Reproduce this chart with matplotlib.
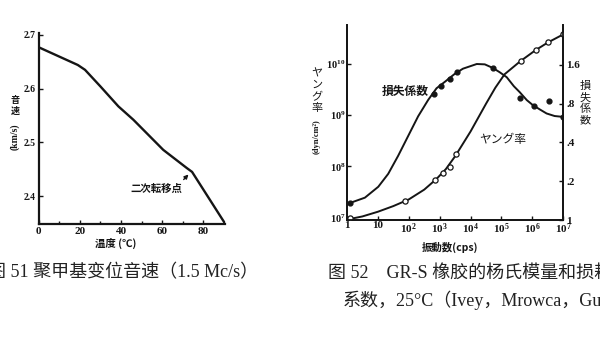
import matplotlib
matplotlib.use("Agg")
import matplotlib.pyplot as plt

# fig 51: sound velocity vs temperature
temp_c = [0, 19, 22.5, 30, 38.7, 46, 60.5, 72, 74.5, 90.5]
speed_kms = [2.677, 2.644, 2.635, 2.604, 2.567, 2.542, 2.486, 2.452, 2.445, 2.349]
transition_t = 74.5
transition_v = 2.445

# fig 52: GR-S rubber, Young's modulus and loss factor vs frequency
young_freq = [1, 3.16, 10, 31.6, 100, 316, 794, 1585, 3162, 10000, 31623, 63096,
              125893, 398107, 1.26e6, 3.16e6, 1e7]
young_mod = [9.3e6, 1.07e7, 1.32e7, 1.70e7, 2.29e7, 3.55e7, 5.75e7, 8.9e7, 1.58e8,
             4.8e8, 1.66e9, 3.39e9, 6.2e9, 1.1e10, 1.82e10, 2.57e10, 3.7e10]
young_pts_freq = [1.26, 74, 692, 1288, 2138, 3467, 436516, 1.35e6, 3.16e6, 9.8e6]
young_pts_mod = [1.0e7, 2.09e7, 5.37e7, 7.41e7, 9.77e7, 1.74e8, 1.10e10, 1.82e10, 2.63e10, 3.8e10]

loss_freq = [1, 3.8, 10.3, 21.6, 45.4, 95.5, 201, 424, 790, 1479, 3090, 5660,
             15849, 28840, 52481, 87096, 147911, 251189, 389045, 660693, 1.02e6,
             1.74e6, 2.88e6, 5.25e6, 1e7]
loss_fac = [0.133, 0.149, 0.181, 0.228, 0.315, 0.448, 0.637, 0.853, 1.05, 1.18, 1.36,
            1.49, 1.62, 1.61, 1.51, 1.40, 1.28, 1.09, 0.98, 0.85, 0.78, 0.72, 0.67,
            0.64, 0.63]
loss_pts_freq = [1.26, 646, 1072, 2138, 3631, 53703, 407380, 1.1e6, 3.39e6, 9.8e6]
loss_pts_fac = [0.135, 0.95, 1.10, 1.23, 1.41, 1.51, 0.88, 0.77, 0.84, 0.63]

freq_ticks = [1, 10, 1e2, 1e3, 1e4, 1e5, 1e6, 1e7]
freq_labels = ["1", "10", "$10^2$", "$10^3$", "$10^4$", "$10^5$", "$10^6$", "$10^7$"]
mod_ticks = [1e7, 1e8, 1e9, 1e10]
mod_labels = ["$10^7$", "$10^8$", "$10^9$", "$10^{10}$"]
loss_ticks = [0.1, 0.2, 0.4, 0.8, 1.6]
loss_labels = ["1", ".2", ".4", ".8", "1.6"]

plt.rcParams["mathtext.fontset"] = "custom"
plt.rcParams["mathtext.bf"] = "Liberation Serif:bold"
plt.rcParams["mathtext.rm"] = "Liberation Serif:bold"
plt.rcParams["mathtext.default"] = "bf"

ink = "#151515"
tickfont = dict(family="Liberation Serif", weight="bold")
jp = ["Noto Sans CJK JP", "DejaVu Sans"]
cap = ["Liberation Serif", "Noto Sans CJK SC"]

fig = plt.figure(figsize=(6, 3.38), dpi=100)

# ---- left chart
ax1 = fig.add_axes([0.0645, 0.3373, 0.3105, 0.5642])
ax1.plot(temp_c, speed_kms, color=ink, lw=1.7)
ax1.set_xlim(0, 90.5)
ax1.set_ylim(2.348, 2.703)
for s in ["top", "right"]:
    ax1.spines[s].set_visible(False)
for s in ["left", "bottom"]:
    ax1.spines[s].set_linewidth(1.6)
    ax1.spines[s].set_color(ink)
ax1.set_xticks([0, 20, 40, 60, 80])
ax1.set_xticks([10, 30, 50, 70, 90], minor=True)
ax1.set_yticks([2.4, 2.5, 2.6, 2.7])
ax1.set_xticklabels(["0", "20", "40", "60", "80"], fontsize=8, color=ink, **tickfont)
ax1.set_yticklabels(["2.4", "2.5", "2.6", "2.7"], fontsize=7, color=ink, **tickfont)
ax1.tick_params(direction="in", length=3, width=1, pad=2, colors=ink)
ax1.tick_params(which="minor", direction="in", length=2, width=1, colors=ink)
ax1.annotate("", xy=(transition_t - 0.8, transition_v - 0.001), xytext=(69.5, 2.427),
             arrowprops=dict(arrowstyle="-|>", color=ink, lw=1, mutation_scale=6))
ax1.text(57, 2.414, "二次転移点", family=jp, fontsize=7.5, weight="bold",
         color=ink, ha="center", va="center")

fig.text(15 / 600, 1 - 106 / 338, "音\n速", family=jp, fontsize=6.5, weight="bold",
         color=ink, ha="center", va="center", linespacing=1.3)
fig.text(15 / 600, 1 - 137 / 338, "(km/s)", family="Liberation Serif", fontsize=7,
         weight="bold", color=ink, rotation=90, ha="center", va="center")
fig.text(116 / 600, 1 - 243 / 338, "温度 (℃)", family=jp, fontsize=7.5, weight="bold",
         color=ink, ha="center", va="center")

# ---- right chart
ax2 = fig.add_axes([0.5783, 0.3491, 0.3605, 0.5769])
ax2.set_xscale("log")
ax2.set_yscale("log")
ax2.plot(young_freq, young_mod, color=ink, lw=1.4, zorder=3)
ax2.scatter(young_pts_freq, young_pts_mod, s=14, facecolor="white", edgecolor=ink,
            lw=0.9, zorder=4)
ax2.set_xlim(1, 1e7)
ax2.set_ylim(10 ** 6.96, 10 ** 10.75)
ax2.set_xticks(freq_ticks)
ax2.set_xticklabels(freq_labels, fontsize=8, color=ink, **tickfont)
ax2.set_yticks(mod_ticks)
ax2.set_yticklabels(mod_labels, fontsize=7.5, color=ink, **tickfont)
ax2.minorticks_off()
ax2.tick_params(direction="in", length=3, width=1, pad=1, colors=ink)

ax3 = ax2.twinx()
ax3.set_yscale("log")
ax3.plot(loss_freq, loss_fac, color=ink, lw=1.4, zorder=3)
ax3.scatter(loss_pts_freq, loss_pts_fac, s=12, color=ink, zorder=4)
ax3.set_ylim(0.1, 3.25)
ax3.set_yticks(loss_ticks)
ax3.set_yticklabels(loss_labels, fontsize=8, color=ink, **tickfont)
ax3.minorticks_off()
ax3.tick_params(direction="in", length=3, width=1, pad=2, colors=ink)
for a in [ax2, ax3]:
    a.spines["top"].set_visible(False)
    for s in ["left", "right", "bottom"]:
        a.spines[s].set_linewidth(1.3)
        a.spines[s].set_color(ink)

ax3.text(77, 0.99, "損失係数", family=jp, fontsize=8.5, weight="bold",
         color=ink, ha="center", va="center")
ax3.text(110000, 0.42, "ヤング率", family=jp, fontsize=8.5, color=ink,
         ha="center", va="center")

fig.text(317 / 600, 1 - 91 / 338, "ヤ\nン\nグ\n率", family=jp, fontsize=8,
         color=ink, ha="center", va="center", linespacing=1.2)
fig.text(317 / 600, 1 - 137 / 338, "(dyn/cm²)", family="Liberation Serif", fontsize=6,
         weight="bold", color=ink, rotation=90, ha="center", va="center")
fig.text(585 / 600, 1 - 103 / 338, "損\n失\n係\n数", family=jp, fontsize=8,
         color=ink, ha="center", va="center", linespacing=1.15)
fig.text(450 / 600, 1 - 247 / 338, "振動数(cps)", family=jp, fontsize=7.5,
         weight="bold", color=ink, ha="center", va="center")

# ---- captions
fig.text(-12 / 600, 1 - 273 / 338, "图 51 聚甲基变位音速（1.5 Mc/s）", family=cap,
         fontsize=13, color="#222222", ha="left", va="center")
fig.text(328 / 600, 1 - 273 / 338, "图 52　GR-S 橡胶的杨氏模量和损耗", family=cap,
         fontsize=13, color="#222222", ha="left", va="center")
fig.text(343 / 600, 1 - 300 / 338, "系数，25°C（Ivey，Mrowca，Gurnee）", family=cap,
         fontsize=13, color="#222222", ha="left", va="center")

plt.savefig("out.png", dpi=100)
